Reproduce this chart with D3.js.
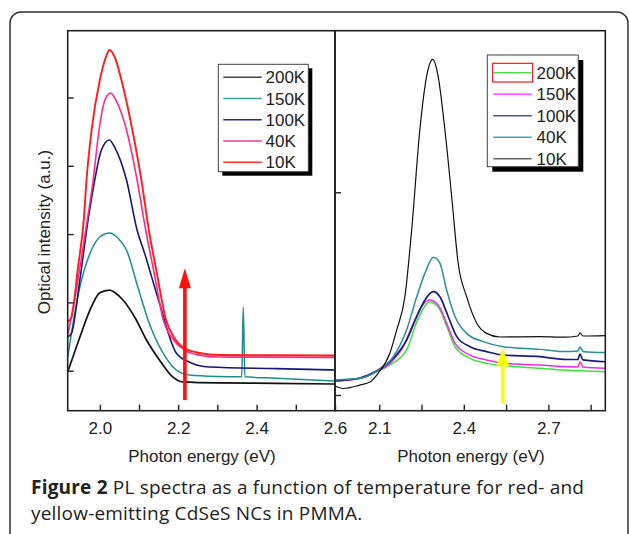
<!DOCTYPE html>
<html>
<head>
<meta charset="utf-8">
<script src="https://cdn.jsdelivr.net/npm/d3@7"></script>
<style>
  body { margin: 0; background: #fff; }
  svg { display: block; }
  text { font-family: "Liberation Sans", Arial, sans-serif; fill: #222; }
</style>
</head>
<body>
<svg id="fig" width="629" height="534"></svg>
<script>
// left panel: red-emitting NCs, [photon energy (eV), intensity (a.u.)]
var left200K = [[1.918,0.98],[1.949,1.49],[1.975,1.89],[2.0,2.14],[2.024,2.18],[2.059,2.035],[2.093,1.742],
  [2.119,1.449],[2.152,1.157],[2.186,0.908],[2.211,0.835],[2.305,0.82],[2.45,0.815],[2.6,0.805]];
var left150K = [[1.918,1.20],[1.949,2.225],[1.975,2.72],[2.0,2.957],[2.025,3.016],[2.046,2.943],[2.068,2.767],
  [2.097,2.225],[2.123,1.742],[2.161,1.259],[2.195,1.01],[2.228,0.937],[2.300,0.915],[2.362,0.91],[2.366,1.93],
  [2.370,0.91],[2.45,0.89],[2.6,0.85]];
var left100K = [[1.918,1.493],[1.928,1.552],[1.949,2.328],[1.970,3.207],[1.987,3.792],[2.004,4.23],[2.024,4.378],
  [2.038,4.27],[2.068,3.792],[2.095,3.06],[2.114,2.723],[2.152,1.991],[2.195,1.259],[2.228,1.127],[2.279,1.054],
  [2.45,1.03],[2.6,1.01]];
var left40K = [[1.918,1.508],[1.942,2.255],[1.964,3.06],[1.983,3.792],[1.998,4.524],[2.013,4.963],[2.027,5.066],
  [2.041,4.963],[2.068,4.524],[2.095,3.792],[2.117,3.06],[2.137,2.474],[2.162,1.742],[2.19,1.435],[2.216,1.30],
  [2.254,1.228],[2.305,1.20],[2.6,1.195]];
var left10K = [[1.918,1.713],[1.928,1.786],[1.944,2.50],[1.959,3.207],[1.966,3.792],[1.979,4.524],[2.0,5.256],
  [2.013,5.55],[2.025,5.695],[2.038,5.59],[2.055,5.256],[2.083,4.524],[2.106,3.792],[2.125,3.06],[2.144,2.474],
  [2.169,1.742],[2.19,1.479],[2.211,1.347],[2.254,1.259],[2.305,1.23],[2.45,1.225],[2.6,1.222]];

// right panel: yellow-emitting NCs
var right200K = [[1.943,1.074],[2.031,1.081],[2.091,1.115],[2.138,1.148],[2.197,1.222],[2.233,1.36],[2.262,1.439],
  [2.277,1.459],[2.309,1.434],[2.339,1.34],[2.369,1.238],[2.422,1.181],[2.481,1.156],[2.54,1.145],[2.67,1.132],
  [2.753,1.123],[2.902,1.115]];
var right150K = [[1.943,1.069],[2.031,1.081],[2.091,1.115],[2.138,1.156],[2.185,1.238],[2.221,1.354],[2.25,1.436],
  [2.277,1.469],[2.309,1.444],[2.339,1.354],[2.369,1.255],[2.422,1.197],[2.481,1.173],[2.54,1.156],[2.67,1.148],
  [2.753,1.14],[2.805,1.138],[2.812,1.163],[2.823,1.138],[2.902,1.132]];
var right100K = [[1.943,1.069],[2.031,1.084],[2.096,1.123],[2.15,1.181],[2.197,1.271],[2.233,1.386],[2.262,1.469],
  [2.292,1.51],[2.315,1.485],[2.345,1.386],[2.375,1.288],[2.422,1.238],[2.481,1.214],[2.54,1.197],[2.67,1.189],
  [2.753,1.176],[2.805,1.175],[2.812,1.202],[2.823,1.173],[2.902,1.164]];
var right40K = [[1.943,1.074],[2.031,1.082],[2.096,1.123],[2.15,1.189],[2.197,1.321],[2.233,1.485],[2.262,1.60],
  [2.292,1.679],[2.315,1.65],[2.339,1.518],[2.369,1.386],[2.41,1.304],[2.469,1.263],[2.54,1.238],[2.67,1.225],
  [2.753,1.214],[2.805,1.217],[2.812,1.237],[2.823,1.215],[2.902,1.209]];
var right10K = [[1.943,1.044],[1.972,1.032],[2.031,1.049],[2.067,1.064],[2.096,1.107],[2.138,1.207],[2.162,1.321],
  [2.191,1.485],[2.215,1.814],[2.244,2.307],[2.269,2.579],[2.29,2.656],[2.308,2.579],[2.333,2.307],[2.357,1.978],
  [2.38,1.65],[2.41,1.485],[2.446,1.354],[2.481,1.304],[2.528,1.286],[2.67,1.288],[2.752,1.285],[2.805,1.291],
  [2.812,1.306],[2.823,1.291],[2.902,1.293]];

var legendLabels = ["200K", "150K", "100K", "40K", "10K"];
var leftSeries = [left200K, left150K, left100K, left40K, left10K];
var rightSeries = [right200K, right150K, right100K, right40K, right10K];
var leftColors = ["#111111", "#1f8c8c", "#16167a", "#ff2a8c", "#ff1e1e"];
var rightColors = ["#3ee03e", "#f028f0", "#1c1c80", "#2a9090", "#111111"];

var leftXTicks = [2.0, 2.1, 2.2, 2.3, 2.4, 2.5, 2.6];
var leftXLabels = [2.0, 2.2, 2.4, 2.6];
var rightXTicks = [2.1, 2.25, 2.4, 2.55, 2.7, 2.85];
var rightXLabels = [2.1, 2.4, 2.7];
var leftYTicks = [1, 2, 3, 4, 5];
var rightYTicks = [1, 2];

var svg = d3.select("#fig");
var plotTop = 30.7, plotBottom = 410.7;

var xL = d3.scaleLinear().domain([1.918, 2.6]).range([67.7, 335]);
var yL = d3.scaleLinear().domain([0.414, 5.978]).range([plotBottom, plotTop]);
var xR = d3.scaleLinear().domain([1.943, 2.902]).range([335, 605.3]);
var yR = d3.scaleLinear().domain([0.9225, 2.797]).range([plotBottom, plotTop]);

// outer figure frame
svg.append("rect")
  .attr("x", 10).attr("y", 12).attr("width", 618).attr("height", 580).attr("rx", 11)
  .attr("fill", "none").attr("stroke", "#333").attr("stroke-width", 1.5);

function drawLines(series, colors, x, y, widths) {
  var line = d3.line()
    .x(function (d) { return x(d[0]); })
    .y(function (d) { return y(d[1]); })
    .curve(d3.curveMonotoneX);
  svg.append("g")
    .selectAll("path")
    .data(series)
    .enter()
    .append("path")
    .attr("d", line)
    .attr("fill", "none")
    .attr("stroke", function (d, i) { return colors[i]; })
    .attr("stroke-width", function (d, i) { return widths[i]; })
    .attr("stroke-linejoin", "round");
}

drawLines(leftSeries, leftColors, xL, yL, [1.7, 1.5, 1.6, 1.6, 1.9]);
drawLines(rightSeries, rightColors, xR, yR, [1.5, 1.5, 1.7, 1.5, 1.2]);

// arrows
function arrow(x, y0, y1, color, headW, headH, lw) {
  svg.append("line")
    .attr("x1", x).attr("x2", x).attr("y1", y0).attr("y2", y1 + headH - 1)
    .attr("stroke", color).attr("stroke-width", lw);
  svg.append("path")
    .attr("d", "M" + (x - headW / 2) + "," + (y1 + headH) + "L" + x + "," + y1 + "L" + (x + headW / 2) + "," + (y1 + headH) + "Z")
    .attr("fill", color);
}
arrow(xL(2.217), yL(0.57), yL(2.50), "#ff1010", 12, 20, 3.6);
arrow(xR(2.538), yR(0.959), yR(1.23), "#ffff00", 13, 18, 3.6);

// panel boxes
[xL, xR].forEach(function (x) {
  var r = x.range();
  svg.append("rect")
    .attr("x", r[0]).attr("y", plotTop).attr("width", r[1] - r[0]).attr("height", plotBottom - plotTop)
    .attr("fill", "none").attr("stroke", "#222").attr("stroke-width", 1.6);
});

function styleAxis(g) {
  g.select(".domain").remove();
  g.selectAll(".tick line").attr("stroke", "#222").attr("stroke-width", 1.4);
  g.selectAll(".tick text").attr("font-size", 17).attr("fill", "#222")
    .style("font-family", '"Liberation Sans", Arial, sans-serif');
}

svg.append("g").attr("transform", "translate(0," + plotBottom + ")")
  .call(d3.axisBottom(xL).tickValues(leftXTicks).tickSize(-6).tickPadding(11)
    .tickFormat(function (d) { return leftXLabels.indexOf(d) >= 0 ? d.toFixed(1) : ""; }))
  .call(styleAxis);
svg.append("g").attr("transform", "translate(0," + plotBottom + ")")
  .call(d3.axisBottom(xR).tickValues(rightXTicks).tickSize(-6).tickPadding(11)
    .tickFormat(function (d) { return rightXLabels.indexOf(d) >= 0 ? d.toFixed(1) : ""; }))
  .call(styleAxis);
svg.append("g").attr("transform", "translate(67.7,0)")
  .call(d3.axisLeft(yL).tickValues(leftYTicks).tickSize(-6).tickFormat(""))
  .call(styleAxis);
svg.append("g").attr("transform", "translate(335,0)")
  .call(d3.axisLeft(yR).tickValues(rightYTicks).tickSize(-6).tickFormat(""))
  .call(styleAxis);

// axis titles
svg.append("text").attr("x", 202).attr("y", 462).attr("text-anchor", "middle")
  .attr("font-size", 17).text("Photon energy (eV)");
svg.append("text").attr("x", 471).attr("y", 462).attr("text-anchor", "middle")
  .attr("font-size", 17).text("Photon energy (eV)");
svg.append("text").attr("transform", "translate(50,232) rotate(-90)").attr("text-anchor", "middle")
  .attr("font-size", 17).text("Optical intensity (a.u.)");

// legends
function legend(x0, y0, w, h, sh, colors, lx1, lx2, tx, ry0, step) {
  var g = svg.append("g");
  g.append("rect").attr("x", x0 + sh).attr("y", y0 + sh).attr("width", w).attr("height", h).attr("fill", "#000");
  g.append("rect").attr("x", x0).attr("y", y0).attr("width", w).attr("height", h)
    .attr("fill", "#fff").attr("stroke", "#444").attr("stroke-width", 1);
  var row = g.selectAll("g.row").data(legendLabels).enter().append("g")
    .attr("transform", function (d, i) { return "translate(0," + (ry0 + i * step) + ")"; });
  row.append("line").attr("x1", lx1).attr("x2", lx2).attr("y1", 0).attr("y2", 0)
    .attr("stroke", function (d, i) { return colors[i]; }).attr("stroke-width", 1.5);
  row.append("text").attr("x", tx).attr("y", 6).attr("font-size", 17).text(function (d) { return d; });
  return g;
}
legend(218.3, 64.3, 90, 107.4, 4, ["#444", "#3a9e9e", "#2a2a80", "#ee3a8e", "#ff3030"], 223.3, 261.7, 265.5, 77.3, 21.25);
var rl = legend(487.3, 55, 91, 111.7, 5, ["#4fdc4f", "#ff4cff", "#50509a", "#4aa6a6", "#666"], 493.3, 531.7, 536.5, 72.7, 21.5);
rl.append("rect").attr("x", 492.7).attr("y", 63.3).attr("width", 40).attr("height", 18.7)
  .attr("fill", "none").attr("stroke", "#e02020").attr("stroke-width", 1.2);

// caption
var capFont = '"Open Sans", sans-serif';
var l1 = svg.append("text").attr("x", 31).attr("y", 494).attr("font-size", 19)
  .style("font-family", capFont).style("letter-spacing", "0.2px").attr("fill", "#231f20");
l1.append("tspan").attr("font-weight", "bold").text("Figure 2");
l1.append("tspan").text(" PL spectra as a function of temperature for red- and");
svg.append("text").attr("x", 31).attr("y", 520).attr("font-size", 19)
  .style("font-family", capFont).style("letter-spacing", "0.2px").attr("fill", "#231f20")
  .text("yellow-emitting CdSeS NCs in PMMA.");
</script>
</body>
</html>
